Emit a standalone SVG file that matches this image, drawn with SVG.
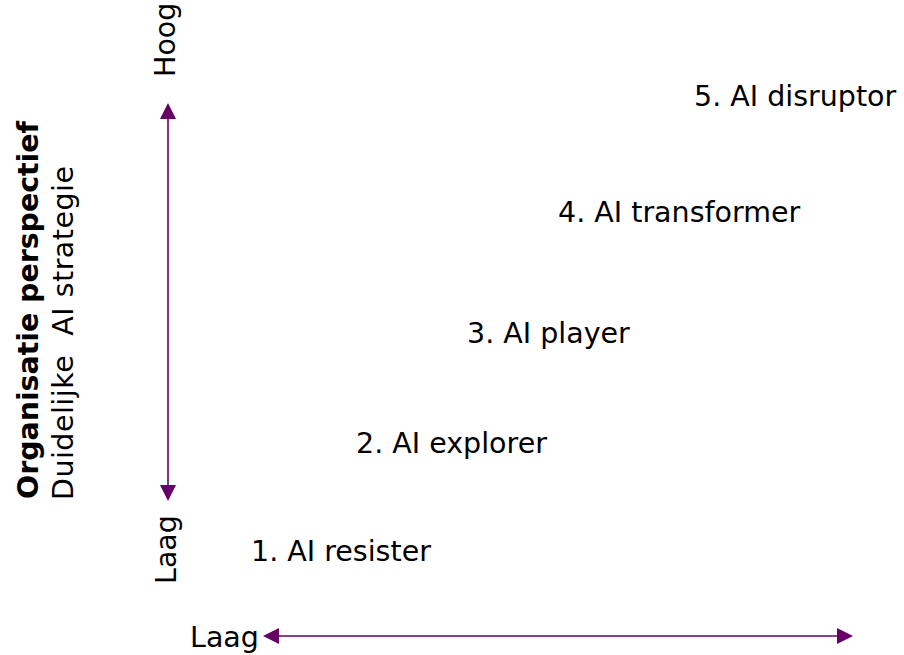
<svg xmlns="http://www.w3.org/2000/svg" width="904" height="655" viewBox="0 0 904 655">
  <style>
    .lbl { font-family: "DejaVu Sans", Verdana, sans-serif; font-size: 28.5px; fill: #000000; white-space: pre; }
    .bold { font-weight: bold; }
    .axis { stroke: #660066; stroke-width: 1.6; fill: none; }
  </style>
  <defs>
    <marker id="ah" markerUnits="userSpaceOnUse" markerWidth="16" markerHeight="16" viewBox="0 0 16 16" refX="0" refY="8" orient="auto-start-reverse">
      <path d="M0,0 L16,8 L0,16 Z" fill="#660066"/>
    </marker>
  </defs>
  <rect x="0" y="0" width="904" height="655" fill="#ffffff"/>

  <g id="connectors">
    <line class="axis" x1="168" y1="119" x2="168" y2="485" marker-start="url(#ah)" marker-end="url(#ah)"/>
    <line class="axis" x1="279" y1="636" x2="837" y2="636" marker-start="url(#ah)" marker-end="url(#ah)"/>
  </g>

  <g id="y-title">
    <text class="lbl bold" transform="translate(38,499) rotate(-90)" textLength="378" lengthAdjust="spacing">Organisatie perspectief</text>
    <text class="lbl" transform="translate(73,500) rotate(-90)" xml:space="preserve" textLength="334" lengthAdjust="spacing">Duidelijke  AI strategie</text>
  </g>
  <g id="y-high"><text class="lbl" transform="translate(175,77) rotate(-90)">Hoog</text></g>
  <g id="y-low"><text class="lbl" transform="translate(176,584) rotate(-90)">Laag</text></g>
  <g id="x-low"><text class="lbl" x="190" y="647">Laag</text></g>

  <g id="level1"><text class="lbl" x="251" y="561">1. AI resister</text></g>
  <g id="level2"><text class="lbl" x="356" y="453">2. AI explorer</text></g>
  <g id="level3"><text class="lbl" x="467" y="343">3. AI player</text></g>
  <g id="level4"><text class="lbl" x="558" y="222">4. AI transformer</text></g>
  <g id="level5"><text class="lbl" x="694" y="106">5. AI disruptor</text></g>
</svg>
